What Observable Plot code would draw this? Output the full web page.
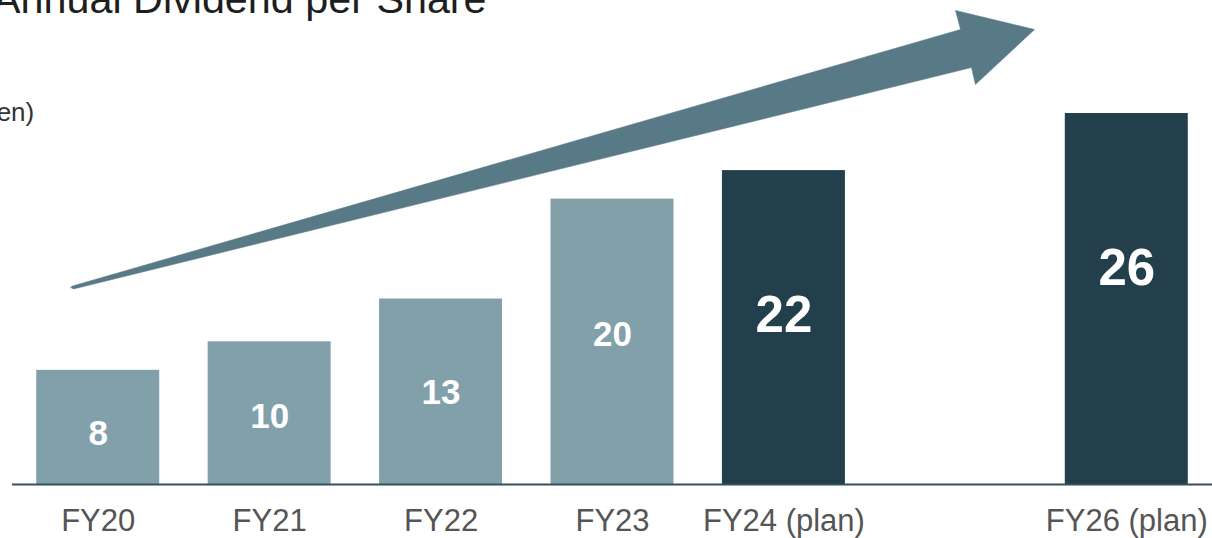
<!DOCTYPE html>
<html>
<head>
<meta charset="utf-8">
<script src="https://cdn.jsdelivr.net/npm/d3@7"></script>
<script src="https://cdn.jsdelivr.net/npm/@observablehq/plot@0.6"></script>
<style>
  html, body { margin: 0; padding: 0; background: #fff; overflow: hidden; }
  #wrap { position: relative; width: 1212px; height: 538px; overflow: hidden; font-family: "Liberation Sans", Arial, sans-serif; }
  #title { position: absolute; left: -7px; top: -21px; font-size: 41.3px; line-height: 41px; color: #1e1e1e; white-space: nowrap; }
  #unit { position: absolute; left: -25px; top: 99px; font-size: 26px; line-height: 26px; color: #333; white-space: nowrap; }
  #chart { position: absolute; left: 0; top: 0; }
</style>
</head>
<body>
<div id="wrap">
  <div id="chart"></div>
  <div id="title">Annual Dividend per Share</div>
  <div id="unit">(yen)</div>
</div>
<script>
// ---- data ----
const categories = ["FY20", "FY21", "FY22", "FY23", "FY24 (plan)", "FY25", "FY26 (plan)"];
const tickLabels = ["FY20", "FY21", "FY22", "FY23", "FY24 (plan)", "", "FY26 (plan)"];
const dividends  = [8, 10, 13, 20, 22, null, 26];
const status     = ["actual", "actual", "actual", "actual", "plan", null, "plan"];

// trend arrow annotation (x in category-index units, y in yen)
const arrowX = [-0.150, 5.030, 5.001, 5.462, 5.117, 5.094, -0.144, -0.160];
const arrowY = [13.91, 31.89, 33.22, 31.89, 28.03, 29.22, 13.70, 13.80];

// ---- build ----
const rows = categories.map((c, i) => ({i, category: c, label: tickLabels[i], value: dividends[i], status: status[i]}));
const bars = rows.filter(d => d.value != null);
const actual = bars.filter(d => d.status === "actual");
const plan = bars.filter(d => d.status === "plan");
const arrow = arrowX.map((x, k) => ({x, y: arrowY[k]}));

const LIGHT = "#82a0aa", DARK = "#243f4c", ARROW = "#587986";
const HALF = 0.3587;

const chart = Plot.plot({
  width: 1212,
  height: 538,
  marginTop: 0,
  marginBottom: 54,
  marginLeft: 12,
  marginRight: 0,
  style: {fontFamily: "'Liberation Sans', Arial, sans-serif", background: "white", overflow: "visible"},
  x: {type: "linear", domain: [-0.5, 6.5], axis: null},
  y: {domain: [0, 33.92], axis: null},
  marks: [
    Plot.rect(actual, {x1: d => d.i - HALF, x2: d => d.i + HALF, y1: 0, y2: "value", fill: LIGHT}),
    Plot.rect(plan, {x1: d => d.i - HALF, x2: d => d.i + HALF, y1: 0, y2: "value", fill: DARK}),
    Plot.ruleY([0], {stroke: "#34505d", strokeWidth: 2}),
    Plot.line(arrow, {x: "x", y: "y", fill: ARROW, stroke: ARROW, strokeWidth: 0.5, curve: "linear-closed"}),
    Plot.text(actual, {x: "i", y: d => d.value * 0.576 - 1.05, text: d => String(d.value), fill: "white", fontSize: 35, fontWeight: "bold", lineAnchor: "middle", textAnchor: "middle"}),
    Plot.text(plan, {x: "i", y: d => d.value * 0.825 - 6.35, text: d => String(d.value), fill: "white", fontSize: 51, fontWeight: "bold", lineAnchor: "middle", textAnchor: "middle"}),
    Plot.text(rows.filter(d => d.label), {x: "i", y: 0, dy: 37, text: "label", fill: "#555", fontSize: 31, lineAnchor: "middle", textAnchor: "middle"})
  ]
});
document.getElementById("chart").appendChild(chart);
</script>
</body>
</html>
